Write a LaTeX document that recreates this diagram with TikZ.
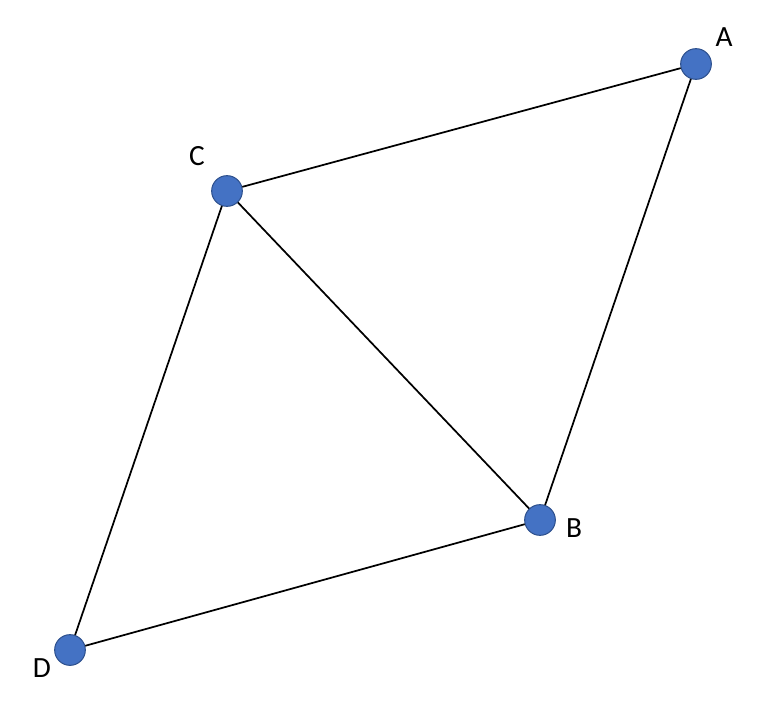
\documentclass[tikz,border=0pt]{standalone}
\usepackage{fontspec}
\setmainfont{Carlito}
\usetikzlibrary{positioning}

\definecolor{vertexfill}{HTML}{4472C4}
\definecolor{vertexline}{HTML}{2F528F}

\begin{document}
\begin{tikzpicture}[
  x=0.75pt, y=-0.75pt,
  font=\fontsize{22}{26}\selectfont,
  vertex/.style={circle, draw=vertexline, fill=vertexfill, line width=0.8pt, minimum size=23pt, inner sep=0},
  vlabel/.style={inner sep=0},
  edge/.style={line width=1.3pt}]

  \useasboundingbox (0,0) rectangle (767,713);

  % vertices
  \node[vertex] (A) at (696,64) {};
  \node[vertex] (C) at (227,191) {};
  \node[vertex] (B) at (540,520) {};
  \node[vertex] (D) at (70,650) {};

  % labels
  \node[vlabel] (labA) at (724,37) {A};
  \node[vlabel] (labC) at (197,156) {C};
  \node[vlabel] (labB) at (574,528) {B};
  \node[vlabel] (labD) at (42,668) {D};

  % edges
  \draw[edge] (C) -- (A);
  \draw[edge] (A) -- (B);
  \draw[edge] (C) -- (B);
  \draw[edge] (C) -- (D);
  \draw[edge] (D) -- (B);

\end{tikzpicture}
\end{document}
